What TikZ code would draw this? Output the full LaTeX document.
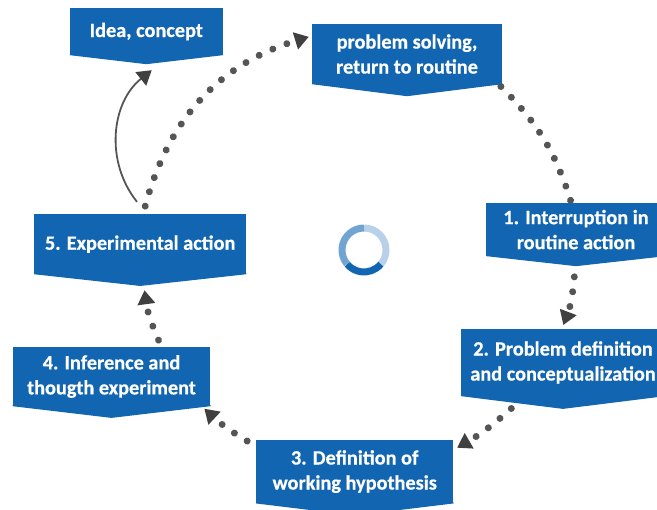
\documentclass[tikz,border=0pt]{standalone}
\usepackage{fontspec}
\setmainfont[BoldFeatures={FakeBold=0.6}]{Carlito}
\usetikzlibrary{arrows.meta,backgrounds,calc}
\definecolor{boxblue}{RGB}{18,101,176}
\definecolor{dotgray}{RGB}{85,85,85}
\definecolor{tipgray}{RGB}{64,64,64}
\definecolor{ringa}{RGB}{184,209,232}
\definecolor{ringb}{RGB}{113,164,210}
\tikzset{
  banner/.style={fill=boxblue,text=white,font=\bfseries\fontsize{20.3}{25}\selectfont,align=center,inner sep=0pt,anchor=center},
  bannertip/.style={fill=boxblue},
  dotline/.style={draw=dotgray,line width=7pt,line cap=round,dash pattern=on 0.01pt off 15pt,
    -{Triangle[length=14pt,width=17pt,color=tipgray]}},
  dotplain/.style={draw=dotgray,line width=7pt,line cap=round,dash pattern=on 0.01pt off 15pt},
  solidline/.style={draw=dotgray,line width=1.8pt,-{Triangle[length=14pt,width=17pt,color=tipgray]}},
  ringarc/.style={line width=7pt},
}
\newcommand{\bannerbox}[7]{%
  \node[banner,minimum width=#4pt,minimum height=#5pt] (#1) at (#2,#3) {#7};
  \fill[bannertip] ([yshift=1pt]#1.south west) -- ([yshift=1pt]#1.south east) -- (#1.south east) -- ([yshift=-#6pt]#1.south) -- (#1.south west) -- cycle;
}
\begin{document}
\begin{tikzpicture}[x=1pt,y=-1pt]
\useasboundingbox (0,0) rectangle (657,510);
\bannerbox{idea}{146.3}{31.5}{152.6}{47}{9}{Idea, concept}
\bannerbox{solve}{407}{54}{190}{60}{12}{problem solving,\\return to routine}
\bannerbox{one}{576}{229.6}{179.4}{52.7}{10}{1. Interruption in\\routine action}
\bannerbox{two}{563}{362.5}{203.4}{67}{12.7}{2. Problem definition\\and conceptualization}
\bannerbox{three}{354.7}{471.6}{197.3}{63.3}{12}{3. Definition of\\working hypothesis}
\bannerbox{four}{111.5}{376.5}{197.6}{59}{11.7}{4. Inference and\\thougth experiment}
\bannerbox{five}{140.2}{244.2}{211.7}{59.7}{11.7}{5. Experimental action}
\begin{scope}[on background layer]
\draw[dotline] ([xshift=5pt,yshift=8pt]five.north) to[bend left=29] ([xshift=-3pt,yshift=-13pt]solve.north west);
\draw[dotplain] ([xshift=-1.3pt,yshift=-2.3pt]solve.south east) to[bend left=14] ([xshift=-4pt,yshift=-2pt]one.north);
\draw[dotline] ([xshift=-1.7pt,yshift=-20.7pt]one.south) to[bend left=8] ([xshift=0.3pt,yshift=3.7pt]two.north);
\draw[dotline] ([xshift=-51.7pt,yshift=-12.3pt]two.south) to[bend left=6] ([xshift=3.5pt,yshift=-8pt]three.north east);
\draw[dotline] ([xshift=-8.7pt,yshift=-1.3pt]three.north west) to[bend left=6] ([xshift=-6.2pt,yshift=-2.5pt]four.south east);
\draw[dotline] ([xshift=47pt,yshift=6.7pt]four.north) to[bend left=8] ([xshift=4.3pt,yshift=-16pt]five.south);
\draw[solidline] ([xshift=-3.2pt,yshift=12.3pt]five.north) to[bend left=45] ([xshift=5.4pt,yshift=-15pt]idea.south);
\end{scope}
% centre ring
\coordinate (ringc) at (364,250);
\draw[ringarc,ringa] (ringc) ++(90:22pt) arc[start angle=90,end angle=-40,radius=22pt];
\draw[ringarc,boxblue] (ringc) ++(-40:22pt) arc[start angle=-40,end angle=-140,radius=22pt];
\draw[ringarc,ringb] (ringc) ++(-140:22pt) arc[start angle=-140,end angle=-270,radius=22pt];
\end{tikzpicture}
\end{document}
